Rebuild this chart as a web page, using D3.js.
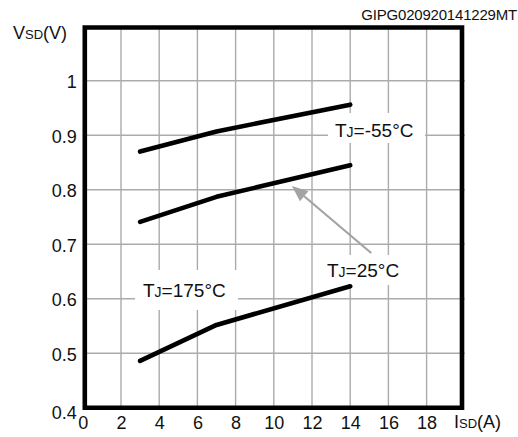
<!DOCTYPE html>
<html>
<head>
<meta charset="utf-8">
<script src="https://cdn.jsdelivr.net/npm/d3@7"></script>
<style>
body{margin:0;background:#fff;}
svg text{font-family:Arial,"Liberation Sans",sans-serif;fill:#111;}
</style>
</head>
<body>
<svg width="518" height="437"></svg>
<script>
// values
var isd = [3, 7, 14];
var vsdCold = [0.870, 0.907, 0.956];   // TJ=-55°C
var vsdRoom = [0.741, 0.787, 0.845];   // TJ=25°C
var vsdHot = [0.486, 0.552, 0.623];    // TJ=175°C
var xTicks = [0, 2, 4, 6, 8, 10, 12, 14, 16, 18];
var yTicks = [0.4, 0.5, 0.6, 0.7, 0.8, 0.9, 1];
var xGrid = [2, 4, 6, 8, 10, 12, 14, 16, 18];
var yGrid = [0.5, 0.6, 0.7, 0.8, 0.9, 1];

var svg = d3.select("svg");

var xScale = d3.scaleLinear()
    .domain([0, 20])
    .range([82.8, 464.8]);

var yScale = d3.scaleLinear()
    .domain([0.4, 1.1])
    .range([407.8, 26.2]);

//gridlines
var grid = svg.append("g").classed("grid", true);
grid.selectAll("line.v")
    .data(xGrid)
    .enter()
    .append("line")
    .attr("x1", function(d){ return xScale(d); })
    .attr("x2", function(d){ return xScale(d); })
    .attr("y1", yScale(1.1))
    .attr("y2", yScale(0.4))
    .attr("stroke", "#ababab")
    .attr("stroke-width", 1.4);
grid.selectAll("line.h")
    .data(yGrid)
    .enter()
    .append("line")
    .attr("y1", function(d){ return yScale(d); })
    .attr("y2", function(d){ return yScale(d); })
    .attr("x1", xScale(0))
    .attr("x2", xScale(20))
    .attr("stroke", "#ababab")
    .attr("stroke-width", 1.4);

//white boxes behind labels
var boxes = [
    {x:328, y:113, w:97, h:30},
    {x:320, y:255, w:85, h:30},
    {x:135, y:270, w:103, h:40}
];
svg.append("g")
    .selectAll("rect")
    .data(boxes)
    .enter()
    .append("rect")
    .attr("x", function(b){ return b.x; })
    .attr("y", function(b){ return b.y; })
    .attr("width", function(b){ return b.w; })
    .attr("height", function(b){ return b.h; })
    .attr("fill", "#fff");

//curves
var line = d3.line()
    .x(function(d, i){ return xScale(isd[i]); })
    .y(function(d){ return yScale(d); });

svg.append("g")
    .selectAll("path")
    .data([vsdCold, vsdRoom, vsdHot])
    .enter()
    .append("path")
    .attr("d", line)
    .attr("fill", "none")
    .attr("stroke", "#000")
    .attr("stroke-width", 4.6)
    .attr("stroke-linecap", "round")
    .attr("stroke-linejoin", "round");

//frame
var fx0 = xScale(0) + 2, fx1 = xScale(20) - 2.8;
var fy0 = yScale(1.1) + 1.3, fy1 = yScale(0.4);
svg.append("path")
    .attr("d", "M" + fx0 + "," + fy0 + "H" + fx1 + "V" + fy1 + "H" + fx0 + "Z")
    .attr("fill", "none")
    .attr("stroke", "#000")
    .attr("stroke-width", 4.6);

//axes (labels only)
var xAxis = d3.axisBottom(xScale)
    .tickValues(xTicks)
    .tickSize(0)
    .tickPadding(0)
    .tickFormat(d3.format("d"));
var gx = svg.append("g")
    .attr("transform", "translate(0," + yScale(0.4) + ")")
    .call(xAxis);
gx.select(".domain").remove();
gx.selectAll("text")
    .attr("dy", null)
    .attr("y", 21)
    .style("font-size", "18px")
    .style("font-family", "Arial, 'Liberation Sans', sans-serif")
    .attr("fill", "#111");

var yAxis = d3.axisLeft(yScale)
    .tickValues(yTicks)
    .tickSize(0)
    .tickPadding(7)
    .tickFormat(function(d){ return d === 1 ? "1" : d3.format(".1f")(d); });
var gy = svg.append("g")
    .attr("transform", "translate(" + xScale(0) + ",0)")
    .call(yAxis);
gy.select(".domain").remove();
gy.selectAll("text")
    .attr("x", -6)
    .attr("dy", function(d){ return d === 0.4 ? "0.6em" : "0.38em"; })
    .style("font-size", "18px")
    .style("font-family", "Arial, 'Liberation Sans', sans-serif")
    .attr("fill", "#111");

//axis titles
var yt = svg.append("text")
    .attr("x", 13)
    .attr("y", 39)
    .style("font-size", "18px");
yt.append("tspan").text("V");
yt.append("tspan").style("font-size", "13px").text("SD");
yt.append("tspan").text("(V)");

var xt = svg.append("text")
    .attr("x", 454)
    .attr("y", 428)
    .style("font-size", "18px");
xt.append("tspan").text("I");
xt.append("tspan").style("font-size", "13px").text("SD");
xt.append("tspan").text("(A)");

svg.append("text")
    .attr("x", 517)
    .attr("y", 20)
    .attr("text-anchor", "end")
    .style("font-size", "15px")
    .attr("letter-spacing", -0.2)
    .text("GIPG020920141229MT");

//arrow for TJ=25°C
var tail = {x:xScale(15.1), y:yScale(0.684)};
var tip = {x:xScale(10.95), y:yScale(0.807)};
var ang = Math.atan2(tip.y - tail.y, tip.x - tail.x);
var hl = 16, hw = 6.5;
var bx = tip.x - hl * Math.cos(ang), by = tip.y - hl * Math.sin(ang);
svg.append("line")
    .attr("x1", tail.x)
    .attr("y1", tail.y)
    .attr("x2", bx)
    .attr("y2", by)
    .attr("stroke", "#a3a3a3")
    .attr("stroke-width", 2.2);
svg.append("path")
    .attr("d", "M" + tip.x + "," + tip.y +
        "L" + (bx + hw * Math.sin(ang)) + "," + (by - hw * Math.cos(ang)) +
        "L" + (bx - hw * Math.sin(ang)) + "," + (by + hw * Math.cos(ang)) + "Z")
    .attr("fill", "#a3a3a3");

//curve labels
var labels = [
    {x:335, y:137, t:"=-55°C"},
    {x:327, y:277, t:"=25°C"},
    {x:143, y:297, t:"=175°C"}
];
var lt = svg.append("g")
    .selectAll("text")
    .data(labels)
    .enter()
    .append("text")
    .attr("x", function(l){ return l.x; })
    .attr("y", function(l){ return l.y; })
    .style("font-size", "19px");
lt.append("tspan").text("T");
lt.append("tspan").style("font-size", "14px").text("J");
lt.append("tspan").text(function(l){ return l.t; });
</script>
</body>
</html>
